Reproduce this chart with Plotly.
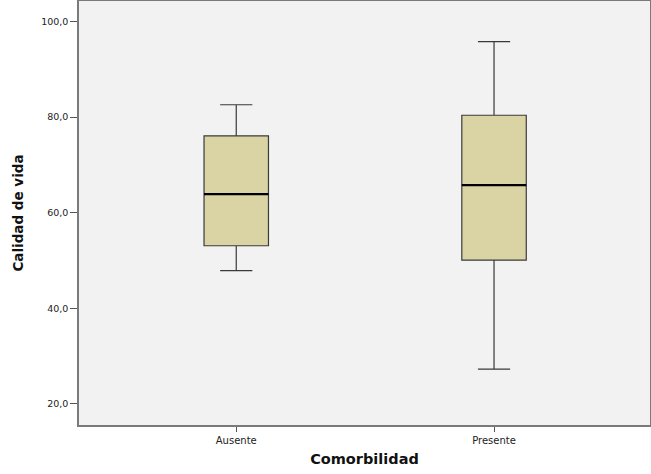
import plotly.graph_objects as go

categories = ["Ausente", "Presente"]
lower_fence = [47.9, 27.3]
q1 = [53.1, 50.1]
median = [63.9, 65.8]
q3 = [76.1, 80.4]
upper_fence = [82.6, 95.8]

y_ticks = [20, 40, 60, 80, 100]
y_tick_labels = ["20,0", "40,0", "60,0", "80,0", "100,0"]

BOX_W = 0.25

fig = go.Figure()
fig.add_trace(go.Box(
    x=categories,
    q1=q1, median=median, q3=q3,
    lowerfence=lower_fence, upperfence=upper_fence,
    fillcolor="#dad4a5",
    line=dict(color="#3a3a3a", width=1.2),
    width=BOX_W,
    whiskerwidth=0.5,
    boxpoints=False,
    hoverinfo="skip",
    showlegend=False,
))

# thicker black median lines (as in SPSS)
for i, m in enumerate(median):
    fig.add_shape(type="line", xref="x", yref="y",
                  x0=i - BOX_W / 2, x1=i + BOX_W / 2, y0=m, y1=m,
                  line=dict(color="black", width=2.2))

font_family = "DejaVu Sans, Verdana, sans-serif"
fig.update_layout(
    width=651, height=474, autosize=False,
    margin=dict(l=79, r=1, t=1, b=49, autoexpand=False),
    paper_bgcolor="white",
    plot_bgcolor="#f2f2f2",
    font=dict(family=font_family, color="#222222"),
    xaxis=dict(
        range=[-0.61, 1.605],
        showline=True, mirror=True, linecolor="#7a7a7a", linewidth=1.5,
        ticks="outside", ticklen=5, tickcolor="#555555", tickwidth=1,
        tickfont=dict(size=10, color="#222222"),
        title=dict(text="<b>Comorbilidad</b>", font=dict(size=14.5, color="#111111"), standoff=9),
        showgrid=False, zeroline=False,
    ),
    yaxis=dict(
        range=[15.6, 104.3],
        tickvals=y_ticks, ticktext=y_tick_labels,
        showline=True, mirror=True, linecolor="#7a7a7a", linewidth=1.5,
        ticks="outside", ticklen=7, tickcolor="#555555", tickwidth=1,
        tickfont=dict(size=9.5, color="#222222"),
        title=dict(text="<b>Calidad de vida</b>", font=dict(size=13.5, color="#111111"), standoff=14),
        showgrid=False, zeroline=False,
    ),
)

fig.write_html(
    "out.html",
    config={"displayModeBar": False, "responsive": False},
    post_script=(
        "document.body.style.margin='0';document.body.style.padding='0';"
        "document.body.style.overflow='hidden';"
        "document.documentElement.style.overflow='hidden';"
    ),
)
